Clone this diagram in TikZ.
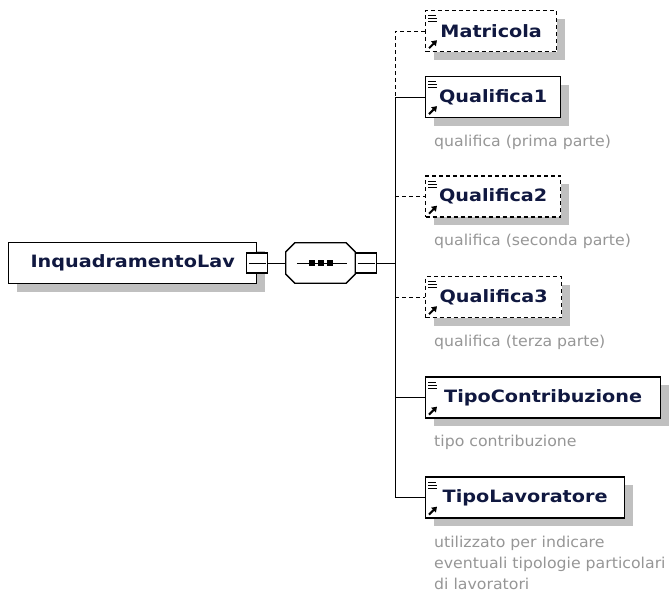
\documentclass[tikz,border=0pt]{standalone}
\usepackage{fontspec}
\setmainfont{DejaVu Sans}
\newfontfamily\namefont[FakeStretch=1.13]{DejaVu Sans}
\newfontfamily\descfont[FakeStretch=1.05]{DejaVu Sans}
\usetikzlibrary{arrows.meta,positioning,shadows}

\definecolor{namecol}{RGB}{16,24,64}
\definecolor{desccol}{RGB}{150,150,150}
\definecolor{shadowcol}{RGB}{192,192,192}

\tikzset{
  boxshadow/.style={general shadow={fill=shadowcol,shadow xshift=8pt,shadow yshift=-8pt}},
  elem/.style={draw,line width=1.3pt,fill=white,boxshadow,anchor=west,
    minimum height=41pt,minimum width=#1,inner xsep=0pt,
    font=\namefont\bfseries\fontsize{17}{19}\selectfont,text=namecol},
  optelem/.style={elem=#1,line width=1.4pt,dash pattern=on 4pt off 3pt},
  minusbox/.style={draw,line width=1.1pt,fill=white,minimum width=21pt,
    minimum height=20pt,inner sep=0pt},
  desc/.style={anchor=north west,inner sep=0pt,align=left,
    font=\descfont\fontsize{15}{21}\selectfont,text=desccol},
  conn/.style={line width=1pt},
  optconn/.style={conn,dash pattern=on 4pt off 3pt},
}

\begin{document}
\begin{tikzpicture}[x=1pt,y=1pt,line cap=butt,line join=miter]
    \useasboundingbox (0,0) rectangle (672,-597);
    % root element
    \node[elem=248] (root) at (8,-263) {InquadramentoLav\hspace{11pt}};
    \node[minusbox] (rootm) at (root.east) {};
    \draw[line width=1pt] ([xshift=2.5pt]rootm.west) -- ([xshift=-2.5pt]rootm.east);
    % sequence compositor
    \node[minimum width=69pt,minimum height=40pt,inner sep=0pt] (seq) at (320.5,-263) {};
    \fill[shadowcol,shift={(8,-8)}]
        ([xshift=9pt]seq.north west) -- ([xshift=-9pt]seq.north east) -- ([yshift=-9pt]seq.north east)
        -- ([yshift=9pt]seq.south east) -- ([xshift=-9pt]seq.south east) -- ([xshift=9pt]seq.south west)
        -- ([yshift=9pt]seq.south west) -- ([yshift=-9pt]seq.north west) -- cycle;
    \draw[line width=1.3pt,fill=white]
        ([xshift=9pt]seq.north west) -- ([xshift=-9pt]seq.north east) -- ([yshift=-9pt]seq.north east)
        -- ([yshift=9pt]seq.south east) -- ([xshift=-9pt]seq.south east) -- ([xshift=9pt]seq.south west)
        -- ([yshift=9pt]seq.south west) -- ([yshift=-9pt]seq.north west) -- cycle;
    \draw[line width=1pt] ([xshift=11pt]seq.west) -- ([xshift=-8pt]seq.east);
    \foreach \dx in {-9,0,9}
        \fill ([xshift=\dx pt]seq.center) ++(-3,-3) rectangle ++(6,6);
    \node[minusbox,anchor=west] (seqm) at (seq.east) {};
    \draw[line width=1pt] ([xshift=2.5pt]seqm.west) -- ([xshift=-2.5pt]seqm.east);
    \coordinate (spine) at (395,-263);
    % child elements
    \node[optelem=131] (mat) at (425,-31) {Matricola};
    \node[elem=135] (qa) at (425,-97) {Qualifica1};
    \node[optelem=135] (qb) at (425,-196.5) {Qualifica2};
    \node[optelem=136] (qc) at (425,-297) {Qualifica3};
    \node[elem=235] (tc) at (425,-397.5) {TipoContribuzione};
    \node[elem=199] (tl) at (425,-497.5) {TipoLavoratore};
    % annotations
    \node[desc] (qad) at ([shift={(9,-16.5)}]qa.south west) {qualifica (prima parte)};
    \node[desc] (qbd) at ([shift={(9,-16.5)}]qb.south west) {qualifica (seconda parte)};
    \node[desc] (qcd) at ([shift={(9,-16.5)}]qc.south west) {qualifica (terza parte)};
    \node[desc] (tcd) at ([shift={(9,-16.5)}]tc.south west) {tipo contribuzione};
    \node[desc] (tld) at ([shift={(9,-17.5)}]tl.south west) {utilizzato per indicare\\eventuali tipologie particolari\\di lavoratori};
    % icons
    \foreach \n in {mat,qa,qb,qc,tc,tl} {
        \draw[line width=1pt] ([shift={(3,-6)}]\n.north west) -- ++(8,0)
            ([shift={(3,-9)}]\n.north west) -- ++(9,0)
            ([shift={(3,-12)}]\n.north west) -- ++(9,0);
        \draw[line width=2pt,-{Triangle[length=5pt,width=6.5pt]}]
            ([shift={(4,4)}]\n.south west) -- ++(8,8);
    }
    % connectors
    \draw[conn] (rootm.east) -- (seq.west);
    \draw[conn] (seqm.east) -- (spine);
    \draw[conn] (spine |- qa.west) -- (spine |- tl.west);
    \draw[optconn] (mat.west) -| (spine |- qa.west);
    \foreach \n in {qa,tc,tl}
        \draw[conn] (spine |- \n.west) -- (\n.west);
    \foreach \n in {qb,qc}
        \draw[optconn] (spine |- \n.west) -- (\n.west);
\end{tikzpicture}
\end{document}
